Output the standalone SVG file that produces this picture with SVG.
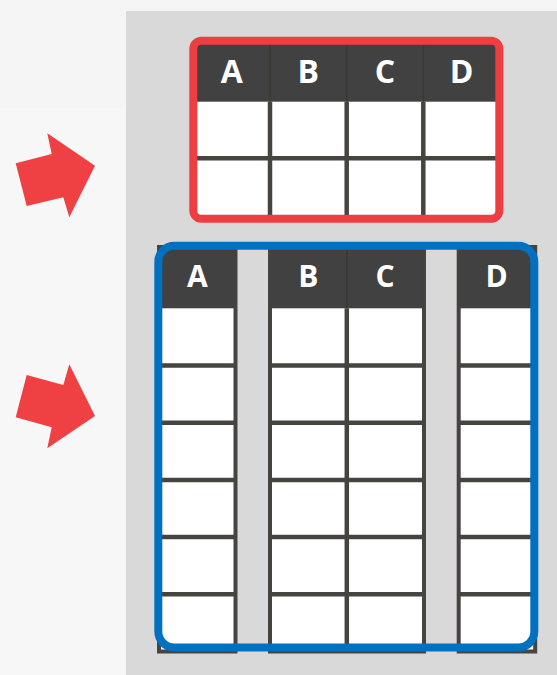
<svg xmlns="http://www.w3.org/2000/svg" width="557" height="675" viewBox="0 0 557 675">
<style>
.hdr{fill:#414141}
.cell{fill:#ffffff}
.grid{stroke:#46443f;stroke-width:4.5;fill:none}
.col{fill:#ffffff;stroke:#46443f;stroke-width:4}
.hdiv{stroke:#393834;stroke-width:1.5}
.lbl{font-family:"Open Sans","Liberation Sans",sans-serif;font-weight:700;fill:#ffffff;text-anchor:middle}
.arrow{fill:#ef4044}
</style>
<rect x="0" y="0" width="557" height="675" fill="#f7f7f7"/>
<rect x="0" y="0" width="557" height="108" fill="#f5f5f5"/>
<rect x="126" y="11" width="431" height="664" fill="#d9d9d9"/>

<g id="connectors">
  <polygon id="arrow1" class="arrow" points="15.7,163.3 51.7,154 47.3,133.3 95,165.7 69.3,217.3 63.3,197.3 26.7,206"/>
  <polygon id="arrow2" class="arrow" points="15.7,417.3 26.7,375 63.3,385 69.3,364.3 95,416 47.3,448.3 51.7,427.3"/>
</g>

<g id="red-table">
  <rect class="cell" x="193.3" y="40.7" width="306" height="178"/>
  <rect class="hdr" x="193.3" y="40.7" width="306" height="61"/>
  <line class="hdiv" x1="270" y1="40.7" x2="270" y2="101.7"/>
  <line class="hdiv" x1="346.7" y1="40.7" x2="346.7" y2="101.7"/>
  <line class="hdiv" x1="423.3" y1="40.7" x2="423.3" y2="101.7"/>
  <line class="grid" x1="270" y1="101.7" x2="270" y2="218.7"/>
  <line class="grid" x1="346.7" y1="101.7" x2="346.7" y2="218.7"/>
  <line class="grid" x1="423.3" y1="101.7" x2="423.3" y2="218.7"/>
  <line class="grid" x1="193.3" y1="158.3" x2="499.3" y2="158.3"/>
  <text class="lbl" x="231.7" y="83.3" font-size="32">A</text>
  <text class="lbl" x="308.3" y="83.3" font-size="32">B</text>
  <text class="lbl" x="385" y="83.3" font-size="32">C</text>
  <text class="lbl" x="461.7" y="83.3" font-size="32">D</text>
  <rect x="193.3" y="40.7" width="306" height="178" rx="8" fill="none" stroke="#ef3e42" stroke-width="8"/>
</g>

<g id="blue-table">
  <g id="col-a">
    <rect class="col" x="159" y="247" width="76.5" height="404.5"/>
    <rect class="hdr" x="159" y="247" width="76.5" height="61.3"/>
    <path class="grid" d="M159,365.5H235.5M159,422.7H235.5M159,479.9H235.5M159,537.1H235.5M159,594.3H235.5"/>
    <text class="lbl" x="197.3" y="287.3" font-size="30">A</text>
  </g>
  <g id="col-bc">
    <rect class="col" x="270" y="247" width="154" height="404.5"/>
    <rect class="hdr" x="270" y="247" width="154" height="61.3"/>
    <line class="hdiv" x1="346.8" y1="247" x2="346.8" y2="308.3"/>
    <line class="grid" x1="346.8" y1="308.3" x2="346.8" y2="651.5"/>
    <path class="grid" d="M270,365.5H424M270,422.7H424M270,479.9H424M270,537.1H424M270,594.3H424"/>
    <text class="lbl" x="308.3" y="287.3" font-size="30">B</text>
    <text class="lbl" x="385" y="287.3" font-size="30">C</text>
  </g>
  <g id="col-d">
    <rect class="col" x="458.7" y="247" width="76.5" height="404.5"/>
    <rect class="hdr" x="458.7" y="247" width="76.5" height="61.3"/>
    <path class="grid" d="M458.7,365.5H535.2M458.7,422.7H535.2M458.7,479.9H535.2M458.7,537.1H535.2M458.7,594.3H535.2"/>
    <text class="lbl" x="496.7" y="287.3" font-size="30">D</text>
  </g>
  <rect x="158.3" y="245.8" width="376" height="401.7" rx="16" fill="none" stroke="#0070c0" stroke-width="8"/>
</g>
</svg>
